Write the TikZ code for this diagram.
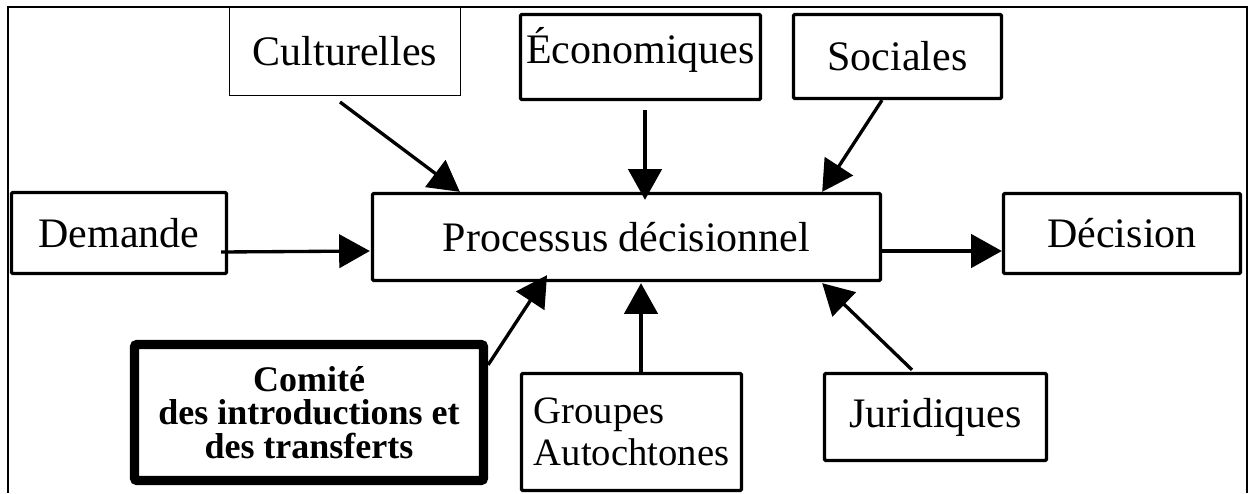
\documentclass[tikz,border=0pt]{standalone}
\usepackage{fontspec}
\setmainfont{Liberation Serif}
\usetikzlibrary{arrows.meta,calc}

\tikzset{
  box/.style={draw, line width=2.5pt, rounded corners=1pt, inner sep=0pt, align=center,
    font=\fontsize{31.5}{34}\selectfont},
  thinbox/.style={box, line width=0.75pt, rounded corners=0pt},
  comitebox/.style={box, line width=7pt, rounded corners=2pt,
    font=\fontsize{27}{25}\selectfont\bfseries},
  arr/.style={line width=2.5pt, -{Triangle[length=23pt,width=25pt]}},
}

\begin{document}
\begin{tikzpicture}[x=0.75pt,y=0.75pt,yscale=-1,xscale=1]
\useasboundingbox (0,0) rectangle (1251,493);

%Frame
\draw [line width=1pt] (8,493) -- (8,7) -- (1247,7) -- (1247,493);

%Centre
\node [box, minimum width=381pt, minimum height=65.25pt] (proc) at (626.5,237) {Processus d\'ecisionnel};

%Top row
\node [thinbox, minimum width=173.25pt, minimum height=66pt] (cult) at (345,51.5) {Culturelles};
\node [box, minimum width=180pt, minimum height=63.75pt, text depth=17pt] (econ) at (640.5,57) {\'Economiques};
\node [box, minimum width=156pt, minimum height=63pt] (soc) at (897.5,56.5) {Sociales};

%Sides
\node [box, minimum width=161.25pt, minimum height=60.75pt] (dem) at (119,233) {Demande};
\node [box, minimum width=177.75pt, minimum height=60pt] (dec) at (1122,233.5) {D\'ecision};

%Bottom row
\node [comitebox, minimum width=261.75pt, minimum height=102pt] (com) at (309,412.5) {Comit\'e\\des introductions et\\des transferts};
\node [box, align=left, minimum width=165pt, minimum height=87.75pt, font=\fontsize{29}{31.5}\selectfont] (grp) at (631.5,432) {Groupes\\Autochtones};
\node [box, minimum width=166.5pt, minimum height=65.25pt] (jur) at (935.5,417) {Juridiques};

%Arrows in
\draw [arr] ($(cult.south)+(-5,6)$) -- ($(proc.north west)+(89,0)$);
\draw [arr] ($(econ.south)+(4.5,9)$) -- ($(proc.north)+(18.5,8)$);
\draw [arr] ($(soc.south)+(-15.5,0)$) -- ($(proc.north east)+(-60,0)$);
\draw [arr] ($(dem.east)+(-7,19)$) -- ($(proc.west)+(-1,14)$);
\draw [arr] ($(com.north east)+(0,25)$) -- ($(proc.south)+(-79.5,-7)$);
\draw [arr] ($(grp.north)+(9.5,0)$) -- ($(proc.south)+(14.5,1)$);
\draw [arr] ($(jur.north)+(-23.5,-2)$) -- ($(proc.south east)+(-60,1)$);

%Arrow out
\draw [arr] ($(proc.east)+(0,14)$) -- ($(dec.west)+(0,17.5)$);

\end{tikzpicture}
\end{document}
